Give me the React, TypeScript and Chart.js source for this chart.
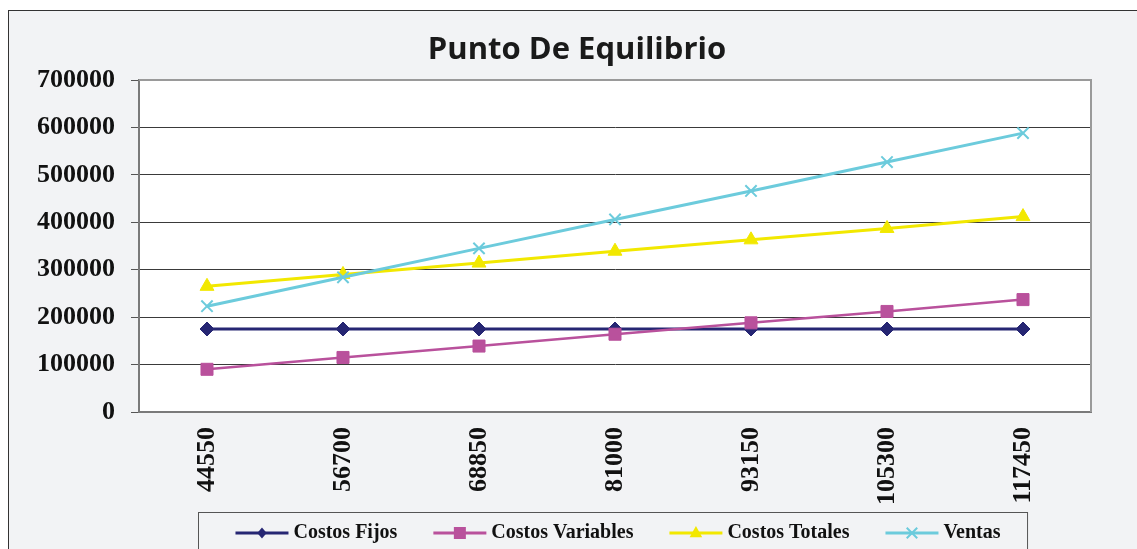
import React, { useEffect, useRef } from "react";
import { Chart, registerables } from "chart.js";

Chart.register(...registerables);

const titleText = "Punto De Equilibrio";
const categories = ["44550", "56700", "68850", "81000", "93150", "105300", "117450"];
const costosFijos = [175000, 175000, 175000, 175000, 175000, 175000, 175000];
const costosVariables = [90000, 115000, 139000, 164000, 188000, 212000, 237000];
const costosTotales = [265000, 290000, 314000, 339000, 363000, 387000, 412000];
const ventas = [223000, 284000, 345000, 406000, 466000, 527000, 588000];
const yTicks = [0, 100000, 200000, 300000, 400000, 500000, 600000, 700000];
const seriesNames = ["Costos Fijos", "Costos Variables", "Costos Totales", "Ventas"];

const SERIF = "'Liberation Serif', 'Times New Roman', serif";

const plotBg = {
  id: "plotBg",
  beforeDraw(chart: any) {
    const { ctx, chartArea: a } = chart;
    ctx.save();
    ctx.fillStyle = "#ffffff";
    ctx.fillRect(a.left, a.top, a.right - a.left, a.bottom - a.top);
    ctx.restore();
  },
  afterDatasetsDraw(chart: any) {
    const { ctx, chartArea: a } = chart;
    ctx.save();
    ctx.strokeStyle = "#9a9a9a";
    ctx.lineWidth = 2;
    ctx.beginPath();
    ctx.moveTo(a.left, a.top);
    ctx.lineTo(a.right, a.top);
    ctx.lineTo(a.right, a.bottom);
    ctx.stroke();
    ctx.restore();
  },
};

const customTitle = {
  id: "customTitle",
  afterDraw(chart: any) {
    const { ctx } = chart;
    ctx.save();
    ctx.font = `bold 31px 'Open Sans', sans-serif`;
    ctx.fillStyle = "#1a1a1a";
    ctx.textAlign = "center";
    ctx.textBaseline = "middle";
    ctx.fillText(titleText, chart.width / 2 + 8.5, 50.6);
    ctx.restore();
  },
};

function drawMarker(ctx: CanvasRenderingContext2D, st: string, x: number, y: number, r: number) {
  ctx.beginPath();
  if (st === "rectRot") {
    ctx.moveTo(x, y - r);
    ctx.lineTo(x + r * 0.85, y);
    ctx.lineTo(x, y + r);
    ctx.lineTo(x - r * 0.85, y);
    ctx.closePath();
    ctx.fill();
  } else if (st === "rect") {
    const s = r;
    ctx.rect(x - s, y - s, s * 2, s * 2);
    ctx.fill();
  } else if (st === "triangle") {
    ctx.moveTo(x, y - r);
    ctx.lineTo(x + r * 0.9, y + r * 0.6);
    ctx.lineTo(x - r * 0.9, y + r * 0.6);
    ctx.closePath();
    ctx.fill();
  } else if (st === "crossRot") {
    const d = r * 0.75;
    ctx.moveTo(x - d, y - d);
    ctx.lineTo(x + d, y + d);
    ctx.moveTo(x + d, y - d);
    ctx.lineTo(x - d, y + d);
    ctx.stroke();
  }
}

const legendMarkerSize: Record<string, number> = { rectRot: 5.5, rect: 6, triangle: 7, crossRot: 7 };

const customLegend = {
  id: "customLegend",
  afterDraw(chart: any) {
    const { ctx, chartArea: a } = chart;
    const lineLen = 53;
    const gapText = 5;
    const gapItem = 36;
    const pad = 37;
    ctx.save();
    ctx.font = `bold 20px ${SERIF}`;
    const items = chart.data.datasets.map((ds: any) => ({
      ds,
      w: ctx.measureText(ds.label).width,
    }));
    const total =
      items.reduce((s: number, it: any) => s + lineLen + gapText + it.w, 0) +
      gapItem * (items.length - 1);
    const cx = (a.left + a.right) / 2 + 3;
    let x = cx - total / 2;
    const boxTop = chart.height - 37;
    const y = boxTop + 21;
    ctx.strokeStyle = "#555555";
    ctx.lineWidth = 1;
    ctx.strokeRect(Math.round(x - pad) + 0.5, boxTop + 0.5, total + pad * 2 - 10, 60);
    items.forEach((it: any) => {
      const ds = it.ds;
      ctx.strokeStyle = ds.borderColor;
      ctx.lineWidth = 3;
      ctx.beginPath();
      ctx.moveTo(x, y);
      ctx.lineTo(x + lineLen, y);
      ctx.stroke();
      const sx = x + lineLen / 2;
      const st = ds.pointStyle;
      ctx.fillStyle = ds.pointBackgroundColor;
      ctx.strokeStyle = ds.pointBorderColor;
      ctx.lineWidth = 2;
      drawMarker(ctx, st, sx, y, legendMarkerSize[st]);
      ctx.fillStyle = "#111111";
      ctx.textBaseline = "middle";
      ctx.textAlign = "left";
      ctx.fillText(ds.label, x + lineLen + gapText, y);
      x += lineLen + gapText + it.w + gapItem;
    });
    ctx.restore();
  },
};

export default function App() {
  const ref = useRef<HTMLCanvasElement | null>(null);

  useEffect(() => {
    if (!ref.current) return;
    const mk = (
      label: string,
      data: number[],
      color: string,
      style: string,
      radius: number,
      width: number,
      order: number
    ) => ({
      label,
      data,
      borderColor: color,
      backgroundColor: color,
      pointBackgroundColor: color,
      pointBorderColor: color,
      pointBorderWidth: style === "crossRot" ? 2 : 1,
      pointStyle: style,
      pointRadius: radius,
      pointHoverRadius: radius,
      borderWidth: width,
      tension: 0,
      fill: false,
      order,
    });
    const chart = new Chart(ref.current, {
      type: "line",
      data: {
        labels: categories,
        datasets: [
          mk(seriesNames[0], costosFijos, "#262673", "rectRot", 7, 3, 4),
          mk(seriesNames[1], costosVariables, "#b9519c", "rect", 8.5, 2.5, 3),
          mk(seriesNames[2], costosTotales, "#f2e800", "triangle", 8, 3, 2),
          mk(seriesNames[3], ventas, "#6ccbdc", "crossRot", 8, 3, 1),
        ] as any,
      },
      plugins: [plotBg, customTitle, customLegend],
      options: {
        animation: false,
        responsive: false,
        devicePixelRatio: 1,
        layout: { padding: { left: 0, right: 46, top: 80, bottom: 0 } },
        plugins: {
          legend: { display: false },
          tooltip: { enabled: false },
          title: { display: false },
        },
        scales: {
          x: {
            offset: true,
            grid: { display: false, drawTicks: false },
            border: { display: true, color: "#7a7a7a", width: 2 },
            ticks: {
              color: "#111111",
              font: { family: SERIF, size: 26, weight: "bold" },
              minRotation: 90,
              maxRotation: 90,
              padding: 15,
              autoSkip: false,
            },
            afterFit(scale: any) {
              scale.height = 137;
            },
          },
          y: {
            min: 0,
            max: 700000,
            afterBuildTicks(scale: any) {
              scale.ticks = yTicks.map((v) => ({ value: v }));
            },
            grid: {
              color: (c: any) => (c.tick && c.tick.value === 700000 ? "#9a9a9a" : "#3a3a3a"),
              lineWidth: 1,
              drawTicks: true,
              tickLength: 8,
              tickColor: "#555555",
            },
            border: { display: true, color: "#7a7a7a", width: 2 },
            ticks: {
              color: "#111111",
              font: { family: SERIF, size: 26, weight: "bold" },
              padding: 16,
              callback: (v: any) => String(v),
            },
            afterFit(scale: any) {
              scale.width = 139;
            },
          },
        },
      } as any,
    });
    return () => chart.destroy();
  }, []);

  return (
    <div style={{ position: "fixed", left: 0, top: 0, width: 1137, height: 549, overflow: "hidden" }}>
      <div
        style={{
          position: "absolute",
          left: 8,
          top: 10,
          width: 1200,
          height: 600,
          border: "1px solid #333333",
          background: "#f2f3f5",
        }}
      />
      <canvas
        ref={ref}
        width={1137}
        height={549}
        style={{ position: "absolute", left: 0, top: 0, width: 1137, height: 549 }}
      />
    </div>
  );
}
